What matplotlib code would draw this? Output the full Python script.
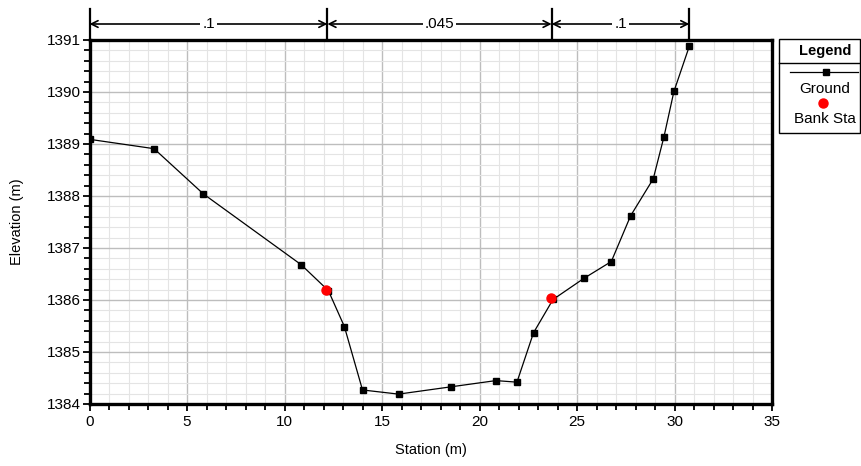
import matplotlib
matplotlib.use("Agg")
import matplotlib.pyplot as plt
import matplotlib.transforms as mtransforms
from matplotlib.patches import Rectangle
from matplotlib.lines import Line2D
from matplotlib.ticker import MultipleLocator

plt.rcParams["font.family"] = ["Liberation Sans", "DejaVu Sans"]

# ground profile
station = [0.0, 3.31, 5.84, 10.85, 12.25, 13.07, 14.0, 15.85, 18.53, 20.84,
           21.92, 22.77, 23.77, 25.37, 26.76, 27.75, 28.91, 29.46, 29.97, 30.76]
elevation = [1389.09, 1388.91, 1388.04, 1386.68, 1386.18, 1385.49, 1384.27, 1384.19,
             1384.33, 1384.45, 1384.42, 1385.37, 1386.01, 1386.42, 1386.74, 1387.62,
             1388.33, 1389.14, 1390.01, 1390.88]

bank_station = [12.15, 23.66]
bank_elevation = [1386.2, 1386.04]

# manning's n regions
n_edges = [0.0, 12.2, 23.7, 30.76]
n_labels = [".1", ".045", ".1"]

fig = plt.figure(figsize=(8.61, 4.66), dpi=100)
ax = fig.add_axes([89.5 / 861, 1 - 404 / 466, (772 - 89.5) / 861, 364 / 466])

ax.plot(station, elevation, color="black", linewidth=0.9, marker="s",
        markersize=5, markerfacecolor="black", zorder=3)
ax.plot(bank_station, bank_elevation, linestyle="none", marker="o",
        markersize=6.5, color="red", zorder=4)

ax.set_xlim(0, 35)
ax.set_ylim(1384, 1391)
ax.xaxis.set_major_locator(MultipleLocator(5))
ax.xaxis.set_minor_locator(MultipleLocator(1))
ax.yaxis.set_major_locator(MultipleLocator(1))
ax.yaxis.set_minor_locator(MultipleLocator(0.2))
ax.grid(which="major", color="#bdbdbd", linewidth=1.0)
ax.grid(which="minor", color="#e4e4e4", linewidth=0.8)
ax.set_axisbelow(True)

for s in ax.spines.values():
    s.set_linewidth(2.4)
ax.tick_params(which="both", direction="out", width=1.3, labelsize=11)
ax.tick_params(axis="y", pad=1)
ax.tick_params(axis="x", pad=3)
ax.tick_params(which="major", length=5)
ax.tick_params(which="minor", length=4.5)
ax.tick_params(top=False, right=False, which="both")

ax.set_xlabel("Station (m)", fontsize=10.5, labelpad=10)
ax.set_ylabel("Elevation (m)", fontsize=10.5, labelpad=17)

# n-value bands above the plot
trans = mtransforms.blended_transform_factory(ax.transData, ax.transAxes)
arrow_y = (404 - 24) / 364
for x in n_edges:
    ax.plot([x, x], [1.0, (404 - 9) / 364], color="black", linewidth=1.6,
            transform=trans, clip_on=False)
for i, lab in enumerate(n_labels):
    x0, x1 = n_edges[i], n_edges[i + 1]
    ax.annotate("", xy=(x0, arrow_y), xytext=(x1, arrow_y), xycoords=trans,
                textcoords=trans,
                arrowprops=dict(arrowstyle="<->", color="black", lw=1.2,
                                shrinkA=0, shrinkB=0, mutation_scale=12),
                annotation_clip=False)
    ax.text((x0 + x1) / 2, arrow_y, lab, transform=trans, ha="center",
            va="center", fontsize=11,
            bbox=dict(facecolor="white", edgecolor="none", pad=1.5))

# legend box
W, H = 861.0, 466.0
def fx(px):
    return px / W
def fy(py):
    return 1 - py / H

fig.patches.append(Rectangle((fx(779), fy(133)), fx(860) - fx(779), fy(39) - fy(133),
                             transform=fig.transFigure, facecolor="white",
                             edgecolor="black", linewidth=1.0))
fig.lines.append(Line2D([fx(779), fx(860)], [fy(63), fy(63)], transform=fig.transFigure,
                        color="black", linewidth=1.0))
fig.text(fx(825), fy(51), "Legend", ha="center", va="center", fontsize=10.5,
         fontweight="bold")
fig.lines.append(Line2D([fx(790), fx(858)], [fy(72), fy(72)], transform=fig.transFigure,
                        color="black", linewidth=0.9))
fig.lines.append(Line2D([fx(826)], [fy(72)], transform=fig.transFigure, marker="s",
                        markersize=5, color="black"))
fig.text(fx(825), fy(89), "Ground", ha="center", va="center", fontsize=11)
fig.lines.append(Line2D([fx(823)], [fy(103)], transform=fig.transFigure, marker="o",
                        markersize=6.5, color="red", linestyle="none"))
fig.text(fx(825), fy(119), "Bank Sta", ha="center", va="center", fontsize=11)

fig.savefig("out.png", dpi=100)
